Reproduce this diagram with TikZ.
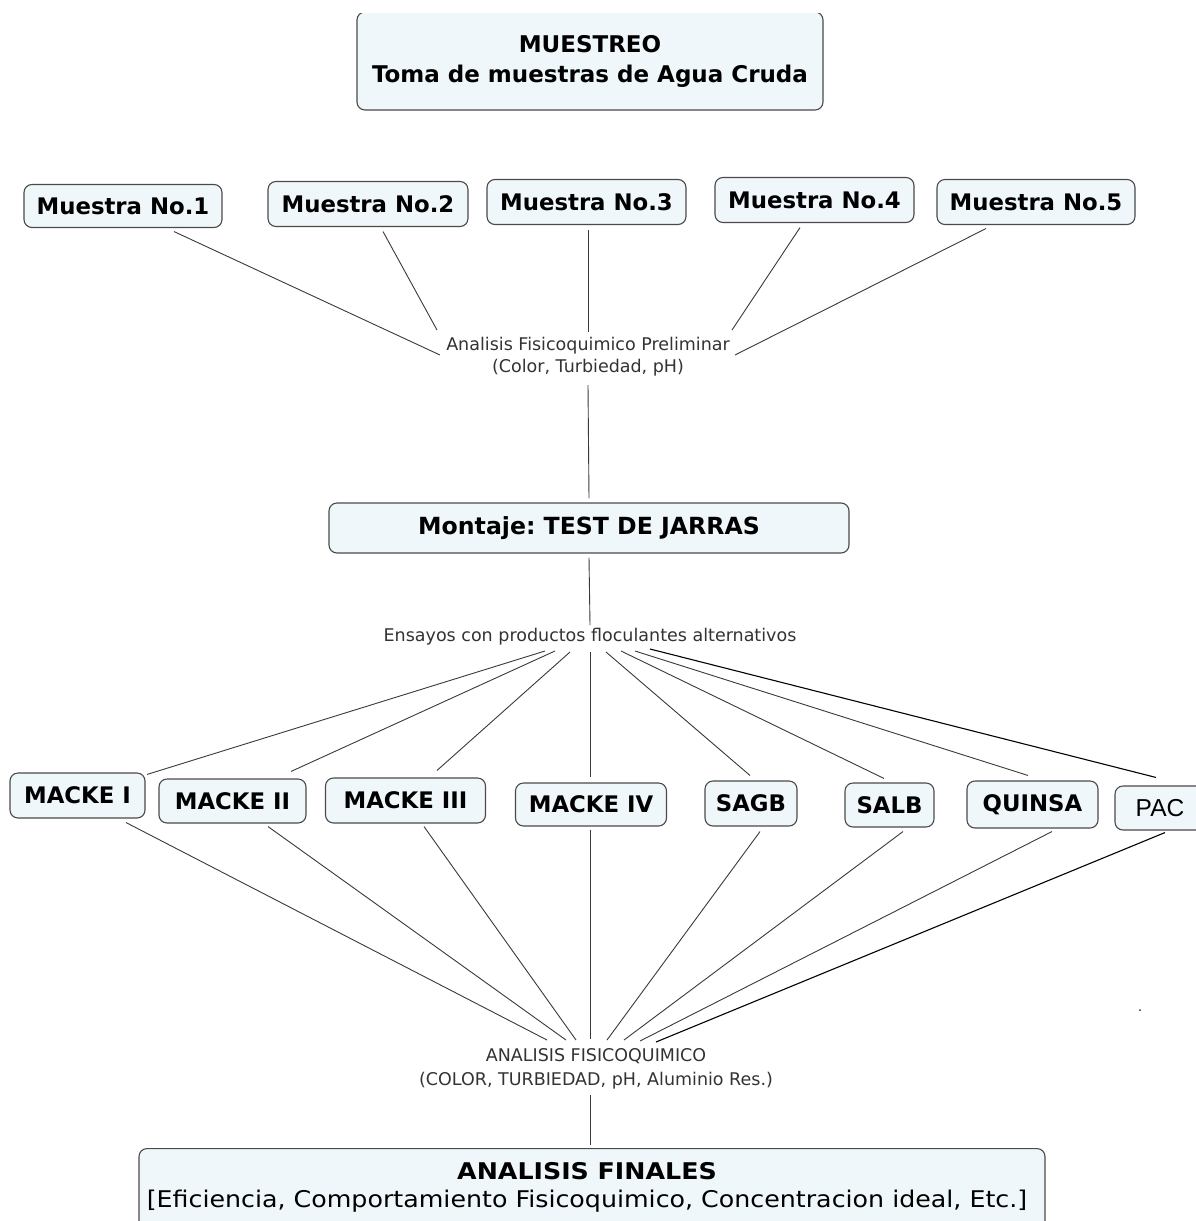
\documentclass[tikz,border=0pt]{standalone}
\usepackage{fontspec}
\setmainfont{DejaVu Sans}
\newfontfamily\pacfont{Liberation Sans}
\newfontfamily\finfont{DejaVu Sans}[FakeStretch=1.1]
\usetikzlibrary{calc}
\definecolor{boxfill}{HTML}{F0F7FA}
\definecolor{boxline}{HTML}{4A4A4A}
\definecolor{linkc}{HTML}{3A3A3A}
\definecolor{lbltext}{HTML}{333333}
\frenchspacing
\tikzset{
  cbox/.style={draw=boxline, fill=boxfill, rounded corners=8pt, line width=1.1pt,
    inner sep=0pt, font=\bfseries\fontsize{22.8}{26}\selectfont, align=center},
  lbl/.style={inner sep=0pt, font=\fontsize{17.5}{22}\selectfont, text=lbltext, align=center},
  link/.style={draw=linkc, line width=0.9pt},
  blink/.style={draw=black, line width=1.1pt},
}
\begin{document}
\begin{tikzpicture}[x=1pt,y=-1pt]
\clip (0,0) rectangle (1196,1221);
\fill[white] (0,0) rectangle (1196,1221);

% top box (top edge cut)
\begin{scope}
\clip (0,13) rectangle (1196,1221);
\node[cbox, minimum width=466pt, minimum height=98pt,
  font=\bfseries\fontsize{23}{30}\selectfont] (top) at (590,61)
  {MUESTREO\\Toma de muestras de Agua Cruda};
\end{scope}

% samples
\node[cbox, minimum width=198pt, minimum height=43pt] (m1) at (123,206) {Muestra No.1};
\node[cbox, minimum width=200pt, minimum height=45pt] (m2) at (368,204) {Muestra No.2};
\node[cbox, minimum width=199pt, minimum height=45pt] (m3) at (586.5,202) {Muestra No.3};
\node[cbox, minimum width=199pt, minimum height=45pt] (m4) at (814.5,200) {Muestra No.4};
\node[cbox, minimum width=198pt, minimum height=45pt] (m5) at (1036,202) {Muestra No.5};

\node[lbl] (pre) at (588,357) {Analisis Fisicoquimico Preliminar\\(Color, Turbiedad, pH)};

\draw[link] ($(m1.south)+(51,3.5)$) -- ($(pre.center)+(-148,-2)$);
\draw[link] ($(m2.south)+(15,4.5)$) -- ($(pre.center)+(-151,-27)$);
\draw[link] ($(m3.south)+(1.5,4.5)$) -- ($(pre.center)+(0,-25)$);
\draw[link] ($(m4.south)+(-14.5,4.5)$) -- ($(pre.center)+(144,-27)$);
\draw[link] ($(m5.south)+(-50,3.5)$) -- ($(pre.center)+(147,-2)$);

\node[cbox, minimum width=520pt, minimum height=50pt,
  font=\bfseries\fontsize{23.6}{26}\selectfont] (mont) at (589,528) {Montaje: TEST DE JARRAS};
\draw[link] ($(pre.center)+(0,28)$) -- ($(mont.north)+(0,-4)$);

\node[lbl] (ens) at (590,637) {Ensayos con productos floculantes alternativos};
\draw[link] ($(mont.south)+(0,4)$) -- ($(ens.center)+(0,-12)$);

% products
\node[cbox, minimum width=135pt, minimum height=45pt] (k1) at (77.5,795.5) {MACKE I};
\node[cbox, minimum width=147pt, minimum height=44pt] (k2) at (232.5,801) {MACKE II};
\node[cbox, minimum width=160pt, minimum height=45pt] (k3) at (405.5,800.5) {MACKE III};
\node[cbox, minimum width=151pt, minimum height=43pt] (k4) at (591,804.5) {MACKE IV};
\node[cbox, minimum width=92pt, minimum height=45pt] (k5) at (751,803.5) {SAGB};
\node[cbox, minimum width=89pt, minimum height=44pt] (k6) at (889.5,805) {SALB};
\node[cbox, minimum width=131pt, minimum height=47pt] (k7) at (1032.5,804.5) {QUINSA};
\node[cbox, minimum width=100pt, minimum height=44pt,
  font=\pacfont\fontsize{24.5}{26}\selectfont] (k8) at (1165,808) {\hspace*{-10pt}PAC};

% fan from ens
\draw[link] ($(ens.center)+(-45,14)$) -- ($(k1.north)+(69.5,2)$);
\draw[link] ($(ens.center)+(-35,14)$) -- ($(k2.north)+(58.5,-7)$);
\draw[link] ($(ens.center)+(-20,15)$) -- ($(k3.north)+(31.5,-7)$);
\draw[link] ($(ens.center)+(0,15)$) -- ($(k4.north)+(-1,-5)$);
\draw[link] ($(ens.center)+(16,15)$) -- ($(k5.north)+(-1,-5)$);
\draw[link] ($(ens.center)+(31,14)$) -- ($(k6.north)+(-5.5,-4)$);
\draw[link] ($(ens.center)+(45,14)$) -- ($(k7.north)+(-4.5,-5)$);
\draw[blink] ($(ens.center)+(60,12)$) -- ($(k8.north)+(-9,-8)$);

\node[lbl, font=\fontsize{17.5}{24}\selectfont] (afq) at (596,1069) {ANALISIS FISICOQUIMICO\\(COLOR, TURBIEDAD, pH, Aluminio Res.)};

\draw[link] ($(k1.south)+(48.5,4)$) -- ($(afq.center)+(-49,-29)$);
\draw[link] ($(k2.south)+(35.5,3)$) -- ($(afq.center)+(-30,-29)$);
\draw[link] ($(k3.south)+(18.5,3)$) -- ($(afq.center)+(-20,-29)$);
\draw[link] ($(k4.south)+(-1,3)$) -- ($(afq.center)+(-6,-30)$);
\draw[link] ($(k5.south)+(9,5)$) -- ($(afq.center)+(11,-29)$);
\draw[link] ($(k6.south)+(13.5,4)$) -- ($(afq.center)+(28,-29)$);
\draw[link] ($(k7.south)+(19.5,3)$) -- ($(afq.center)+(44,-28)$);
\draw[blink] ($(k8.south)+(0,2)$) -- ($(afq.center)+(60,-27)$);

% final
\node[draw=boxline, fill=boxfill, rounded corners=8pt, line width=1.1pt,
  minimum width=906pt, minimum height=110pt, anchor=north] (fin) at (592,1148) {};
\node[inner sep=0pt, align=center, font=\finfont\fontsize{23}{28}\selectfont] (fintx) at (587,1187)
  {\textbf{ANALISIS FINALES}\\{}[Eficiencia, Comportamiento Fisicoquimico, Concentracion ideal, Etc.]};
\draw[link] ($(afq.center)+(-6,26)$) -- ($(fin.north)+(-2,-3)$);

\fill[black!80] (1140,1010) circle (1pt);
\end{tikzpicture}
\end{document}
